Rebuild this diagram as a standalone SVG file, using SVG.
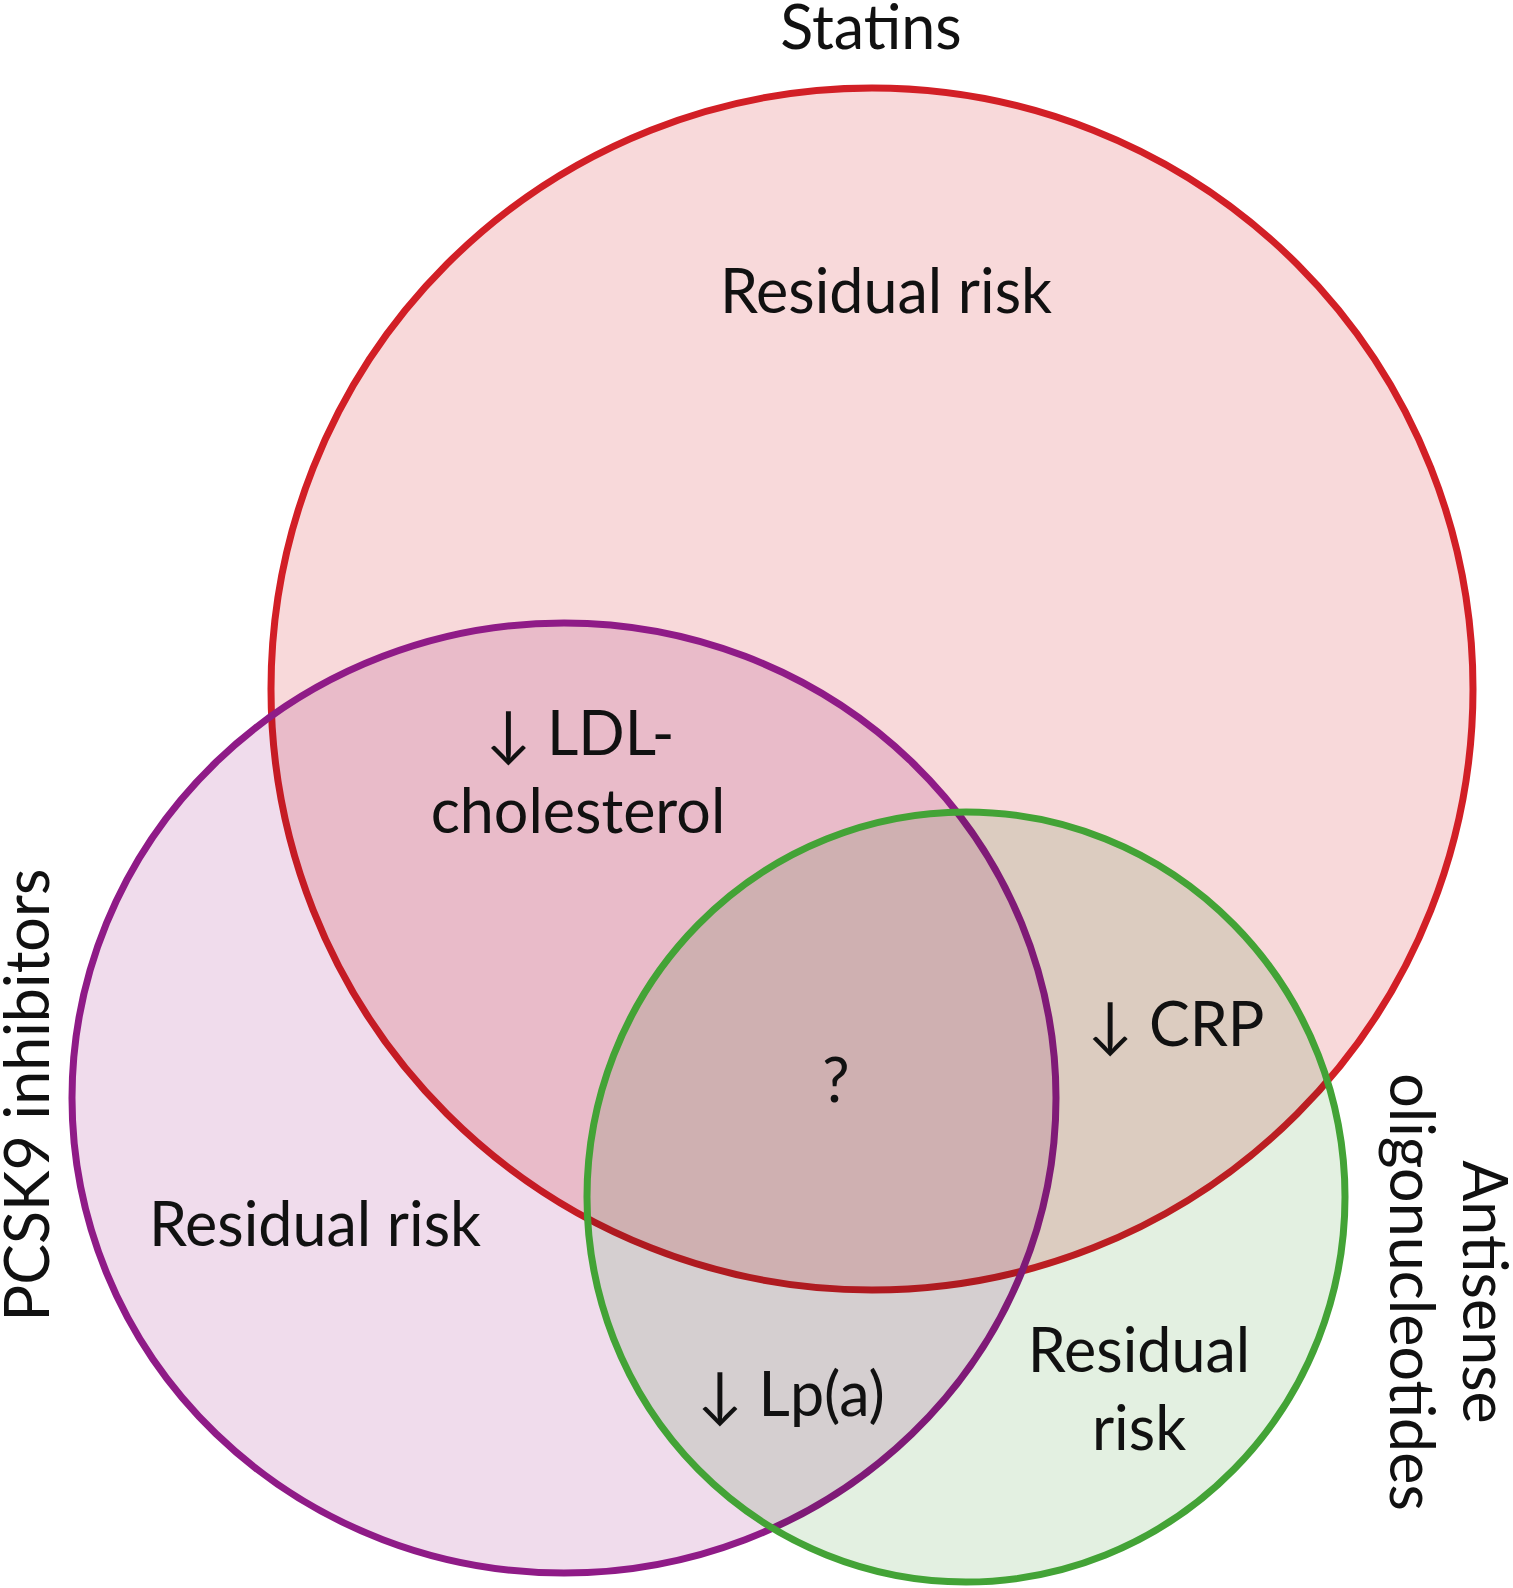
<svg xmlns="http://www.w3.org/2000/svg" width="1513" height="1588" viewBox="0 0 1513 1588">
<style>
.lbl{font-family:Lato,"Open Sans","DejaVu Sans",sans-serif;font-size:61px;fill:#111;text-anchor:middle}
.fill{mix-blend-mode:multiply}
.line{fill:none;stroke-width:7}
</style>
<rect width="1513" height="1588" fill="#ffffff"/>
<g id="statins">
<circle cx="872" cy="689" r="601" fill="#f8d9da"/>
<circle class="line" cx="872" cy="689" r="601" stroke="#d21f26"/>
</g>
<g id="pcsk9">
<ellipse class="fill" cx="564" cy="1098" rx="492" ry="475" fill="#f0dcec"/>
<ellipse class="line" cx="564" cy="1098" rx="492" ry="475" stroke="#8f1b87"/>
</g>
<g id="antisense">
<ellipse class="fill" cx="966" cy="1197" rx="379" ry="385" fill="#e3f0e1"/>
<ellipse class="line" cx="966" cy="1197" rx="379" ry="385" stroke="#43a336" stroke-width="8"/>
</g>
<g id="connectors"/>
<g id="labels">
<text class="lbl" x="871" y="49">Statins</text>
<text class="lbl" x="886" y="313">Residual risk</text>
<text class="lbl" x="580" y="755">↓ LDL-</text>
<text class="lbl" x="578" y="833">cholesterol</text>
<text class="lbl" x="1176" y="1046">↓ CRP</text>
<text class="lbl" x="836" y="1102">?</text>
<text class="lbl" x="315" y="1246">Residual risk</text>
<text class="lbl" x="791" y="1416">↓ Lp(a)</text>
<text class="lbl" x="1139" y="1372">Residual</text>
<text class="lbl" x="1139" y="1450">risk</text>
<text class="lbl" transform="translate(49 1095) rotate(-90)">PCSK9 inhibitors</text>
<text class="lbl" transform="translate(1463 1292) rotate(90)">Antisense</text>
<text class="lbl" transform="translate(1390 1292) rotate(90)">oligonucleotides</text>
</g>
</svg>
